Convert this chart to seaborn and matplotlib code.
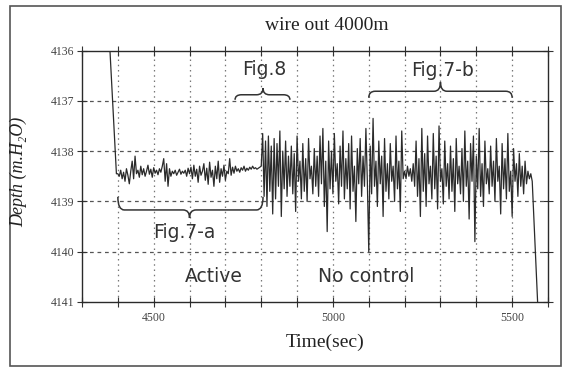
import matplotlib
matplotlib.use('Agg')
import matplotlib.pyplot as plt
from matplotlib.path import Path
from matplotlib.patches import PathPatch, Rectangle
import numpy as np
import pandas as pd
import seaborn as sns

# Data (depth in m.H2O, time in sec)
ramp_time = [4378, 4396]
ramp_depth = [4136.0, 4138.45]

active_start, active_step = 4400, 4
active_depth = [
    4138.45, 4138.50, 4138.38, 4138.55, 4138.42, 4138.60, 4138.35, 4138.48, 4138.65, 4138.40,
    4138.20, 4138.55, 4138.10, 4138.45, 4138.38, 4138.52, 4138.30, 4138.47, 4138.35, 4138.50,
    4138.40, 4138.28, 4138.46, 4138.36, 4138.52, 4138.33, 4138.44, 4138.38, 4138.47, 4138.35,
    4138.42, 4138.30, 4138.15, 4138.60, 4138.25, 4138.70, 4138.35, 4138.50, 4138.40, 4138.45,
    4138.38, 4138.48, 4138.42, 4138.36, 4138.46, 4138.40, 4138.44, 4138.38, 4138.50, 4138.34,
    4138.45, 4138.32, 4138.55, 4138.28, 4138.50, 4138.36, 4138.62, 4138.30, 4138.48, 4138.40,
    4138.25, 4138.58, 4138.34, 4138.66, 4138.22, 4138.52, 4138.38, 4138.70, 4138.30, 4138.55,
    4138.20, 4138.62, 4138.35, 4138.50, 4138.28, 4138.58, 4138.40, 4138.45, 4138.15, 4138.48,
    4138.32, 4138.44, 4138.30, 4138.40, 4138.35, 4138.42, 4138.33, 4138.38, 4138.30, 4138.40,
    4138.34, 4138.38, 4138.32, 4138.36, 4138.30, 4138.35, 4138.33, 4138.36, 4138.34, 4138.32,
]

free_start, free_step = 4800, 4
free_depth = [
    4138.30, 4137.65, 4138.90, 4137.80, 4139.10, 4137.70, 4138.80, 4137.90, 4139.25, 4137.75,
    4138.95, 4137.85, 4138.70, 4137.60, 4139.30, 4138.00, 4138.75, 4137.80, 4138.90, 4138.10,
    4138.70, 4137.90, 4138.85, 4138.05, 4139.20, 4137.70, 4138.60, 4138.20, 4138.95, 4137.85,
    4138.80, 4138.15, 4139.00, 4137.75, 4138.55, 4138.30, 4138.85, 4137.95, 4138.70, 4138.10,
    4138.90, 4137.70, 4138.65, 4137.55, 4139.10, 4138.20, 4139.60, 4137.80, 4138.75, 4138.00,
    4138.85, 4137.65, 4138.60, 4138.25, 4139.05, 4137.90, 4138.70, 4137.60, 4138.95, 4138.15,
    4138.75, 4137.85, 4139.15, 4137.70, 4138.80, 4138.30, 4139.40, 4137.95, 4138.65, 4137.75,
    4138.90, 4138.10, 4138.70, 4137.55, 4138.60, 4140.00, 4137.90, 4138.85, 4137.35, 4138.70,
    4138.20, 4139.10, 4137.80, 4138.65, 4138.10, 4139.30, 4137.75, 4138.80, 4138.25, 4138.95,
    4137.85, 4138.60, 4138.30, 4139.00, 4137.70, 4138.75, 4138.20, 4139.20, 4137.60, 4138.55,
    4138.40, 4138.55, 4138.30, 4138.50, 4138.35, 4138.60, 4138.25, 4138.70, 4137.80, 4138.90,
    4138.15, 4139.30, 4137.55, 4138.80, 4138.05, 4139.10, 4137.70, 4138.65, 4138.30, 4138.95,
    4137.65, 4138.75, 4138.10, 4139.15, 4137.50, 4138.60, 4138.35, 4139.05, 4137.80, 4138.70,
    4138.25, 4138.95, 4137.90, 4138.80, 4138.15, 4139.20, 4137.75, 4138.65, 4138.30, 4138.85,
    4137.95, 4139.00, 4137.60, 4138.70, 4138.20, 4139.35, 4137.85, 4138.60, 4137.70, 4139.80,
    4138.10, 4138.75, 4137.55, 4138.90, 4138.25, 4139.10, 4137.80, 4138.65, 4138.35, 4138.85,
    4137.90, 4138.70, 4138.20, 4139.00, 4137.75, 4138.60, 4138.30, 4139.25, 4137.85, 4138.75,
    4138.15, 4138.95, 4137.65, 4138.80, 4138.40, 4139.30, 4137.95, 4138.60, 4138.25, 4138.90,
    4138.05, 4138.70, 4138.30, 4138.85, 4138.20, 4138.65, 4138.40, 4138.55, 4138.45, 4138.60,
]

end_time = [5571]
end_depth = [4141.0]

x_ticks = list(range(4300, 5601, 100))
x_labels = {4500: '4500', 5000: '5000', 5500: '5500'}
y_ticks = [4136, 4137, 4138, 4139, 4140, 4141]

# braces: (start, tip, end, y at ends, y flat, y tip), label text + position
braces = [
    (4727, 4805, 4880, 4136.98, 4136.88, 4136.75),
    (5100, 5300, 5500, 4136.94, 4136.81, 4136.63),
    (4400, 4600, 4805, 4138.91, 4139.17, 4139.33),
]
notes = [
    ('Fig.8', 4808, 4136.37),
    ('Fig.7-b', 5307, 4136.39),
    ('Fig.7-a', 4585, 4139.61),
    ('Active', 4668, 4140.50),
    ('No control', 5092, 4140.50),
]

t_active = active_start + active_step * np.arange(len(active_depth))
t_free = free_start + free_step * np.arange(len(free_depth))
df = pd.DataFrame({
    'time': np.concatenate([ramp_time, t_active, t_free, end_time]),
    'depth': np.concatenate([ramp_depth, active_depth, free_depth, end_depth]),
})

sns.set_theme(style='white')
plt.rcParams['font.family'] = ['DejaVu Sans']

fig = plt.figure(figsize=(5.68, 3.69), dpi=100)
ax = fig.add_axes([82 / 568, 1 - 302 / 369, (548 - 82) / 568, (302 - 50.5) / 369])

sns.lineplot(data=df, x='time', y='depth', ax=ax, estimator=None, sort=False,
             color='#2b2b2b', linewidth=0.9)

ax.set_xlim(4300, 5600)
ax.set_ylim(4141, 4136)
ax.set_xticks(x_ticks)
ax.set_xticklabels([x_labels.get(t, '') for t in x_ticks])
ax.set_yticks(y_ticks)
ax.set_yticklabels([str(v) for v in y_ticks])
for lab in ax.get_xticklabels() + ax.get_yticklabels():
    lab.set_fontfamily(['Liberation Serif', 'DejaVu Serif'])
    lab.set_fontsize(8.5)
    lab.set_color('#444444')
ax.tick_params(direction='inout', length=7, width=0.8, color='#333333',
               top=True, right=True, left=True, bottom=True, pad=2)
ax.tick_params(axis='x', pad=4)
ax.set_xlabel('')
ax.set_ylabel('')

for s in ax.spines.values():
    s.set_color('#2a2a2a')
    s.set_linewidth(1.0)

for yv in y_ticks[1:-1]:
    ax.axhline(yv, color='#555555', lw=0.9, ls=(0, (3, 3)), zorder=0)
for xv in x_ticks[1:-1]:
    ax.axvline(xv, color='#777777', lw=0.9, ls=(0, (1.2, 3)), zorder=0)


def brace(x0, xm, x1, ye, yf, yt):
    r = min(18, (x1 - x0) / 6)
    verts = [(x0, ye), (x0, yf), (x0 + r, yf),
             (xm - r, yf), (xm, yf), (xm, yt),
             (xm, yf), (xm + r, yf),
             (x1 - r, yf), (x1, yf), (x1, ye)]
    codes = [Path.MOVETO, Path.CURVE3, Path.CURVE3,
             Path.LINETO, Path.CURVE3, Path.CURVE3,
             Path.CURVE3, Path.CURVE3,
             Path.LINETO, Path.CURVE3, Path.CURVE3]
    ax.add_patch(PathPatch(Path(verts, codes), fill=False, ec='#333333', lw=1.1, zorder=3))


for b in braces:
    brace(*b)
for txt, xv, yv in notes:
    ax.text(xv, yv, txt, ha='center', va='center', fontsize=13.5, color='#333333',
            family='DejaVu Sans')

fig.text(327 / 568, 1 - 26 / 369, 'wire out 4000m', ha='center', va='center',
         fontsize=14, color='#222222', family=['Liberation Serif', 'DejaVu Serif'])
fig.text(325 / 568, 1 - 342 / 369, 'Time(sec)', ha='center', va='center',
         fontsize=14, color='#222222', family=['Liberation Serif', 'DejaVu Serif'])
fig.text(19 / 568, 1 - 172 / 369, 'Depth (m.H\u2082O)', ha='center', va='center',
         rotation=90, fontsize=13, style='italic', color='#222222',
         family=['Liberation Serif', 'DejaVu Serif'])

fig.patches.append(Rectangle((10 / 568, 1 - 366 / 369), 551 / 568, 360 / 369,
                             transform=fig.transFigure, fill=False, ec='#555555', lw=1.2))

fig.savefig('out.png', dpi=100)
